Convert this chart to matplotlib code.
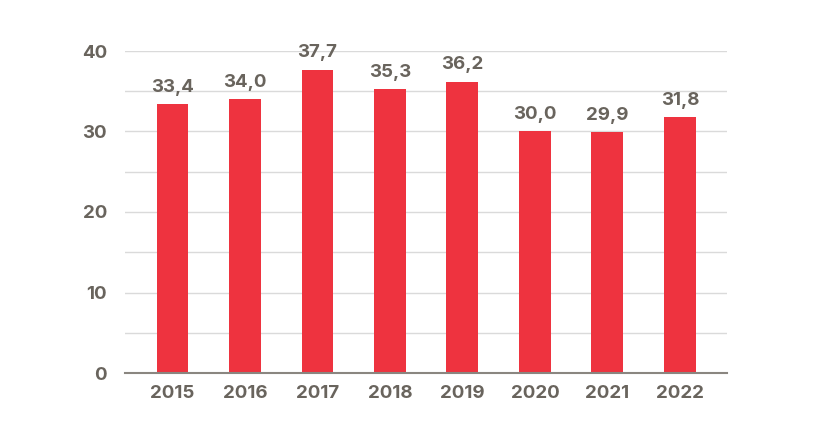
import matplotlib.pyplot as plt
from matplotlib.ticker import MultipleLocator

years = ["2015", "2016", "2017", "2018", "2019", "2020", "2021", "2022"]
values = [33.4, 34.0, 37.7, 35.3, 36.2, 30.0, 29.9, 31.8]

BAR_COLOR = "#EE333F"
TEXT_COLOR = "#69645D"

plt.rcParams['font.family'] = ['Inter', 'DejaVu Sans']

fig = plt.figure(figsize=(8.19, 4.38), dpi=100)
ax = fig.add_axes([125 / 819, (438 - 373) / 438, (727 - 125) / 819, (373 - 51) / 438])

x = list(range(len(years)))
bars = ax.bar(x, values, width=0.44, color=BAR_COLOR, zorder=3)

for xi, v in zip(x, values):
    ax.annotate(f"{v:.1f}".replace(".", ","), (xi, v), xytext=(0, 6),
                textcoords="offset points", ha="center", va="bottom",
                fontsize=13.5, fontweight="bold", color=TEXT_COLOR)

ax.set_xlim(-0.655, 7.65)
ax.set_ylim(0, 40)
ax.yaxis.set_major_locator(MultipleLocator(10))
ax.yaxis.set_minor_locator(MultipleLocator(5))
ax.grid(axis="y", which="both", color="#DADADA", linewidth=1, zorder=0)

ax.set_xticks(x)
ax.set_xticklabels(years)
for s in ["top", "right", "left"]:
    ax.spines[s].set_visible(False)
ax.spines["bottom"].set_color("#8A8680")
ax.spines["bottom"].set_linewidth(1.5)
ax.spines["bottom"].set_zorder(4)

ax.tick_params(axis="both", which="both", length=0, labelsize=13.5, labelcolor=TEXT_COLOR)
ax.tick_params(axis="y", pad=13)
ax.tick_params(axis="x", pad=9)
for lbl in ax.get_xticklabels() + ax.get_yticklabels():
    lbl.set_fontweight("bold")

fig.savefig("out.png", dpi=100)
